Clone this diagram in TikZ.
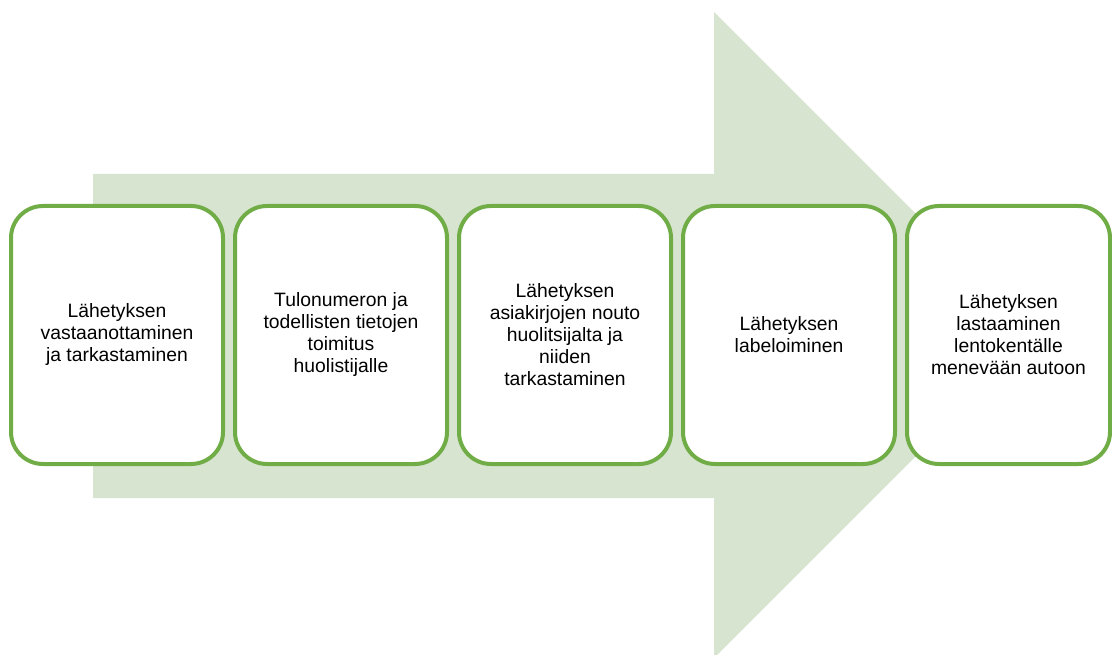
\documentclass[tikz,border=0pt]{standalone}
\usepackage{fontspec}
\setmainfont{Liberation Sans}
\usetikzlibrary{positioning}
\definecolor{leafgreen}{RGB}{112,173,71}
\definecolor{palegreen}{RGB}{215,228,208}
\tikzstyle{stage} = [draw=leafgreen, fill=white, line width=3pt, rectangle,
    rounded corners=24pt, minimum height=193.5pt, minimum width=159pt,
    align=center, font=\fontsize{14.5}{16.5}\selectfont]
\tikzstyle{laststage} = [stage, minimum width=152.25pt]

\begin{document}
\begin{tikzpicture}[x=0.75pt, y=-0.75pt]
    \useasboundingbox (0,0) rectangle (1112,655);
    \clip (0,0) rectangle (1112,655);
    % big background arrow
    \fill [palegreen] (93,174) -- (714,174) -- (714,12) -- (1037,335)
        -- (714,658) -- (714,498) -- (93,498) -- cycle;
    % process steps
    \node [stage] (s1) at (117,335) {L\"ahetyksen\\vastaanottaminen\\ja tarkastaminen};
    \node [stage, right=6pt of s1] (s2) {Tulonumeron ja\\todellisten tietojen\\toimitus\\huolistijalle};
    \node [stage, right=6pt of s2] (s3) {L\"ahetyksen\\asiakirjojen nouto\\huolitsijalta ja\\niiden\\tarkastaminen};
    \node [stage, right=6pt of s3] (s4) {L\"ahetyksen\\labeloiminen};
    \node [laststage, right=6pt of s4] (s5) {L\"ahetyksen\\lastaaminen\\lentokent\"alle\\menev\"a\"an autoon};
\end{tikzpicture}
\end{document}
